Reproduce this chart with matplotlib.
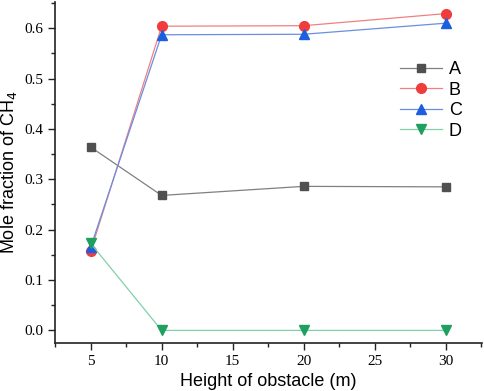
import matplotlib
matplotlib.use("Agg")
import matplotlib.pyplot as plt
from matplotlib.ticker import MultipleLocator

heights = [5, 10, 20, 30]
series_names = ["A", "B", "C", "D"]
A = [0.364, 0.268, 0.286, 0.285]
B = [0.157, 0.604, 0.605, 0.629]
C = [0.165, 0.587, 0.588, 0.610]
D = [0.173, 0.0, 0.0, 0.0]
xticks = [5, 10, 15, 20, 25, 30]
yticks = [0.0, 0.1, 0.2, 0.3, 0.4, 0.5, 0.6]

fig = plt.figure(figsize=(4.84, 3.91), dpi=100)
ax = fig.add_axes([0.1136, 0.1228, 0.8824, 0.872])

styles = [
    ("#505050", "#808080", "s", 6),
    ("#f03c3c", "#f08080", "o", 7),
    ("#1a5fe0", "#6a8fe0", "^", 7),
    ("#20a060", "#80d0a8", "v", 7),
]
for name, ys, (mc, lc, m, ms) in zip(series_names, [A, B, C, D], styles):
    ax.plot(heights, ys, color=lc, lw=0.9, marker=m, markersize=ms,
            markerfacecolor=mc, markeredgecolor=mc, label=name)

ax.set_xlim(2.49, 32.56)
ax.set_ylim(-0.025, 0.652)
ax.set_xticks(xticks)
ax.set_yticks(yticks)
ax.set_xticklabels([str(v) for v in xticks])
ax.set_yticklabels(["%.1f" % v for v in yticks])
ax.xaxis.set_minor_locator(MultipleLocator(2.5))
ax.yaxis.set_minor_locator(MultipleLocator(0.05))
for lab in ax.get_xticklabels() + ax.get_yticklabels():
    lab.set_fontfamily("Liberation Serif")
    lab.set_fontsize(11)
ax.tick_params(which="major", direction="out", length=5, width=1, color="#222222")
ax.tick_params(which="minor", direction="out", length=3, width=1, color="#222222")
for s in ["top", "right"]:
    ax.spines[s].set_visible(False)
for s in ["left", "bottom"]:
    ax.spines[s].set_linewidth(1.2)
    ax.spines[s].set_color("#222222")

ax.set_xlabel("Height of obstacle (m)", fontsize=13, family="Liberation Sans")
ax.set_ylabel("Mole fraction of CH$_4$", fontsize=13, family="Liberation Sans")

leg = ax.legend(loc="upper left", bbox_to_anchor=(0.77, 0.875), frameon=False,
                handlelength=2.3, labelspacing=0.2, handletextpad=0.4,
                prop={"family": "Liberation Sans", "size": 13})
fig.savefig("out.png", dpi=100)
